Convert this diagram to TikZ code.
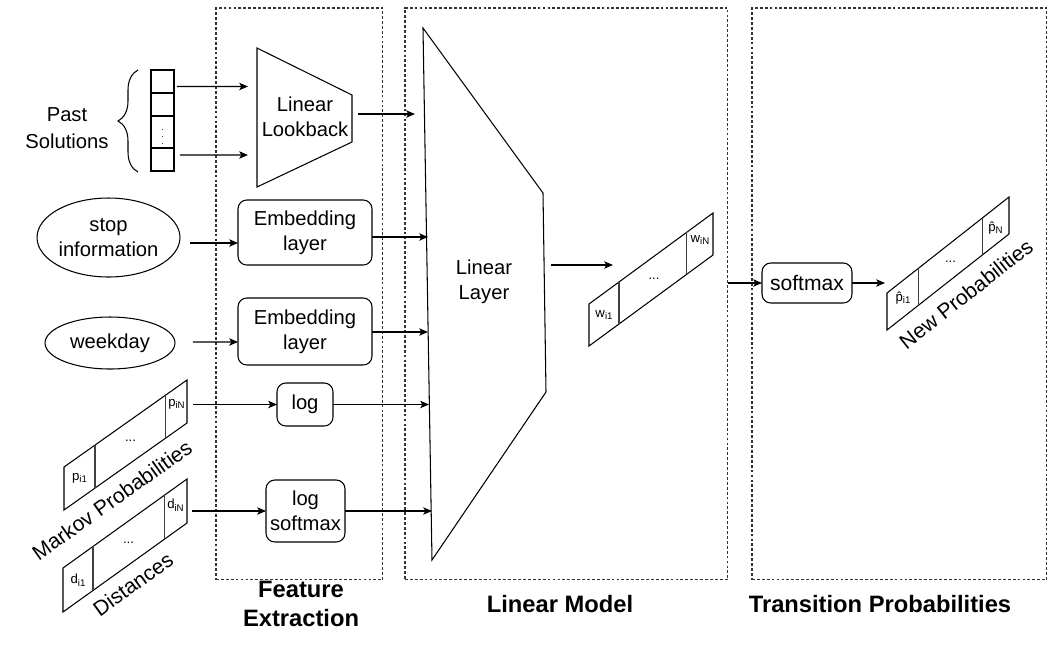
\documentclass[tikz,border=0pt]{standalone}
\usepackage{fontspec}
\setmainfont{Liberation Sans}
\usetikzlibrary{arrows.meta,calc,decorations.pathreplacing,shapes.geometric}
\newcommand\cellsub[2]{#1\raisebox{-0.35ex}{\fontsize{5.5}{6}\selectfont #2}}
\newcommand\phatsym{\ooalign{p\cr\hidewidth ˆ\hidewidth\cr}}
\begin{document}
\begin{tikzpicture}[x=0.02cm,y=-0.02cm,
  every node/.style={inner sep=0pt, outer sep=0pt, font=\fontsize{11.5}{14}\selectfont},
  arr/.style={-{Stealth[length=5pt,width=4.2pt,inset=1.2pt]}, line width=0.6pt},
  edgeline/.style={line width=0.6pt},
  divider/.style={line width=0.6pt, black!75},
  groupbox/.style={draw, line width=0.6pt, black!80, dash pattern=on 1.6pt off 1.2pt, anchor=north west},
  rbox/.style={draw, line width=0.6pt, rounded corners=5pt, align=center},
  oval/.style={draw, ellipse, line width=0.6pt, align=center},
  stackcell/.style={draw, line width=0.6pt, minimum width=0.46cm},
  cellfont/.style={font=\fontsize{7.5}{8}\selectfont},
  veclabel/.style={font=\fontsize{12}{14}\selectfont},
  title/.style={font=\bfseries\fontsize{13.5}{17}\selectfont, align=center},
  txt/.style={align=center}
]
\useasboundingbox (0,0) rectangle (1059,657);

% groups
\node[groupbox, minimum width=3.34cm, minimum height=11.44cm] (fe) at (216,8) {};
\node[groupbox, minimum width=6.46cm, minimum height=11.44cm] (lm) at (405,8) {};
\node[groupbox, minimum width=5.90cm, minimum height=11.44cm] (tp) at (752,8) {};
\node[title] (fet) at (301,604) {Feature\\Extraction};
\node[title] (lmt) at (560,604) {Linear Model};
\node[title] (tpt) at (880,604) {Transition Probabilities};

% past solutions
\node[txt, font=\fontsize{11.5}{15}\selectfont] (past) at (67,128) {Past\\Solutions};
\draw[edgeline, decorate, decoration={brace, amplitude=0.4cm}] (138,172) -- (138,70);
\node[stackcell, minimum height=0.46cm, anchor=north west] (c1) at (151,70) {};
\node[stackcell, minimum height=0.46cm, anchor=north] (c2) at (c1.south) {};
\node[stackcell, minimum height=0.64cm, anchor=north] (c3) at (c2.south) {\fontsize{5}{5}\selectfont$\vdots$};
\node[stackcell, minimum height=0.46cm, anchor=north] (c4) at (c3.south) {};

% linear lookback
\coordinate (lbA) at (257,48);
\coordinate (lbB) at (352,95);
\coordinate (lbC) at (352,142);
\coordinate (lbD) at (257,187);
\draw[edgeline] (lbA) -- (lbB) -- (lbC) -- (lbD) -- cycle;
\node[txt] (lookback) at (305,117) {Linear\\Lookback};
\coordinate (lbin1) at (248,86.5);
\coordinate (lbin2) at (248,155);
\draw[arr] ([shift={(3,5)}]c1.east) -- (lbin1);
\draw[arr] ([shift={(6,-4.5)}]c4.east) -- (lbin2);

% linear layer
\coordinate (llA) at (423,28);
\coordinate (llB) at (543,193);
\coordinate (llC) at (546,392);
\coordinate (llD) at (432,560);
\draw[edgeline] (llA) -- (llB) -- (llC) -- (llD) -- cycle;
\node[txt] (linlayer) at (484,282) {Linear\\Layer};
\coordinate (lbout) at (358,114);
\coordinate (llin1) at (415,114);
\draw[arr] (lbout) -- (llin1);

% inputs
\node[oval, minimum width=2.86cm, minimum height=1.58cm] (stop) at (108.5,237.5) {stop\\information};
\node[oval, minimum width=2.6cm, minimum height=1.04cm] (weekday) at (110,343) {weekday};
\node[rbox, minimum width=2.68cm, minimum height=1.3cm] (emb1) at (305,232.5) {Embedding\\layer};
\node[rbox, minimum width=2.68cm, minimum height=1.34cm] (emb2) at (305,331.5) {Embedding\\layer};
\node[rbox, minimum width=1.12cm, minimum height=0.86cm] (log) at (305,404.5) {log};
\node[rbox, minimum width=1.58cm, minimum height=1.24cm] (logsm) at (305.5,511) {log\\softmax};

\draw[arr] ([shift={(10,5.5)}]stop.east) -- ([shift={(0,10.5)}]emb1.west);
\draw[arr] ([shift={(18,-1)}]weekday.east) -- ([shift={(0,10.5)}]emb2.west);
\coordinate (llin2) at (428,237);
\coordinate (llin3) at (428,332);
\coordinate (llin4) at (429,404.5);
\coordinate (llin5) at (432,511);
\draw[arr] (emb1.east |- llin2) -- (llin2);
\draw[arr] (emb2.east |- llin3) -- (llin3);
\draw[arr] (log.east) -- (llin4);
\draw[arr] (logsm.east) -- (llin5);

% Markov probabilities vector
\coordinate (pBL) at (64,510);
\coordinate (pTL) at (64,467);
\coordinate (pTR) at (187,380);
\coordinate (pBR) at (187,423);
\draw[edgeline] (pBL) -- (pTL) -- (pTR) -- (pBR) -- cycle;
\draw[divider] ($(pTL)!0.252!(pTR)$) -- ($(pBL)!0.252!(pBR)$);
\draw[divider] ($(pTL)!0.829!(pTR)$) -- ($(pBL)!0.829!(pBR)$);
\node[cellfont] (p1) at (79.5,478) {\cellsub{p}{i1}};
\node[cellfont] (pdots) at (130.5,441) {...};
\node[cellfont] (pN) at (176.5,404) {\cellsub{p}{iN}};
\node[veclabel, rotate=35.3] (markov) at (112,500) {Markov Probabilities};
\coordinate (pout) at (193,404.5);
\draw[arr] (pout) -- (log.west);

% distances vector
\coordinate (dBL) at (63,612);
\coordinate (dTL) at (63,568);
\coordinate (dTR) at (187,479);
\coordinate (dBR) at (187,523);
\draw[edgeline] (dBL) -- (dTL) -- (dTR) -- (dBR) -- cycle;
\draw[divider] ($(dTL)!0.242!(dTR)$) -- ($(dBL)!0.242!(dBR)$);
\draw[divider] ($(dTL)!0.815!(dTR)$) -- ($(dBL)!0.815!(dBR)$);
\node[cellfont] (d1) at (78,580) {\cellsub{d}{i1}};
\node[cellfont] (ddots) at (128.5,543) {...};
\node[cellfont] (dN) at (175.5,505) {\cellsub{d}{iN}};
\node[veclabel, rotate=35.7] (dist) at (133,584) {Distances};
\coordinate (dout) at (192,511);
\draw[arr] (dout) -- (logsm.west);

% w vector
\coordinate (wBL) at (589,346);
\coordinate (wTL) at (589,304);
\coordinate (wTR) at (713,213);
\coordinate (wBR) at (713,255);
\draw[edgeline] (wBL) -- (wTL) -- (wTR) -- (wBR) -- cycle;
\draw[divider] ($(wTL)!0.242!(wTR)$) -- ($(wBL)!0.242!(wBR)$);
\draw[divider] ($(wTL)!0.790!(wTR)$) -- ($(wBL)!0.790!(wBR)$);
\node[cellfont] (w1) at (604,315) {\cellsub{w}{i1}};
\node[cellfont] (wdots) at (654,279) {...};
\node[cellfont] (wN) at (700,240) {\cellsub{w}{iN}};
\coordinate (llout) at (551,265);
\coordinate (win) at (613,265);
\draw[arr] (llout) -- (win);

% softmax and new probabilities
\node[rbox, minimum width=1.8cm, minimum height=0.8cm, font=\fontsize{12}{14}\selectfont] (softmax) at (807,283) {softmax};
\coordinate (wout) at (728,283);
\draw[arr] (wout) -- (softmax.west);
\coordinate (hBL) at (887,330);
\coordinate (hTL) at (887,293);
\coordinate (hTR) at (1009,197);
\coordinate (hBR) at (1009,234);
\draw[edgeline] (hBL) -- (hTL) -- (hTR) -- (hBR) -- cycle;
\draw[divider] ($(hTL)!0.262!(hTR)$) -- ($(hBL)!0.262!(hBR)$);
\draw[divider] ($(hTL)!0.779!(hTR)$) -- ($(hBL)!0.779!(hBR)$);
\node[cellfont] (h1) at (903,299) {\cellsub{\phatsym}{i1}};
\node[cellfont] (hdots) at (950.5,262) {...};
\node[cellfont] (hN) at (995.5,229) {\cellsub{\phatsym}{N}};
\node[veclabel, rotate=38.2] (newprob) at (966,294) {New Probabilities};
\coordinate (phin) at (885,283);
\draw[arr] (softmax.east) -- (phin);
\end{tikzpicture}
\end{document}
